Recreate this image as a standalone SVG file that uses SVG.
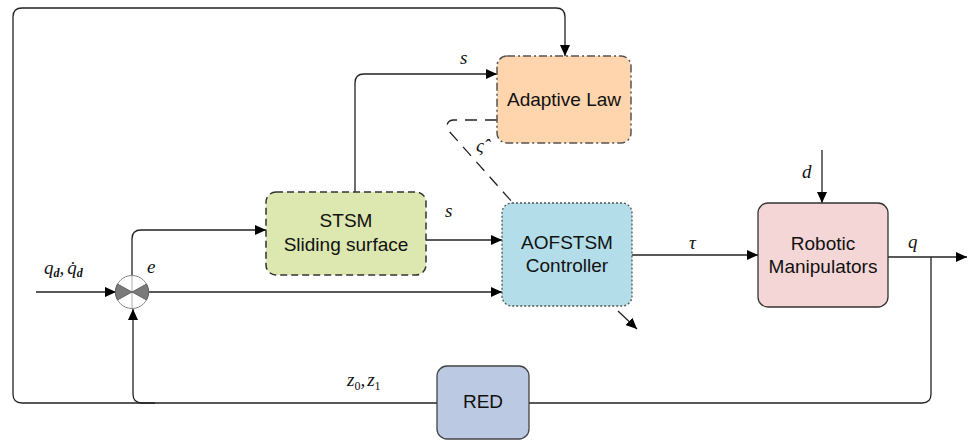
<svg xmlns="http://www.w3.org/2000/svg" width="976" height="442" viewBox="0 0 976 442">
<defs>
<marker id="ah" markerUnits="userSpaceOnUse" markerWidth="11" markerHeight="10" refX="11" refY="5" orient="auto">
<path d="M0,0 L11,5 L0,10 z" fill="#000"/>
</marker>
<style>
.ln{fill:none;stroke:#222;stroke-width:1.3}
.arr{marker-end:url(#ah)}
.lbl{font-family:"Liberation Sans",Arial,sans-serif;font-size:19px;fill:#111;text-anchor:middle}
.m{font-family:"Liberation Serif","Times New Roman",serif;font-style:italic;font-size:19px;fill:#111}
.sub{font-size:12px;font-weight:bold}
</style>
</defs>
<rect width="976" height="442" fill="#fff"/>
<g id="connectors">
<path class="ln arr" d="M155 403 L22 403 Q13 403 13 394 L13 17 Q13 8 22 8 L556 8 Q565 8 565 17 L565 56"/>
<path class="ln arr" d="M437 403 L142 403 Q133 403 133 394 L133 309"/>
<path class="ln" d="M529 403 L922 403 Q931 403 931 394 L931 257"/>
<path class="ln arr" d="M888 257 L967 257"/>
<path class="ln arr" d="M822 150 L822 203"/>
<path class="ln arr" d="M632 255 L758 255"/>
<path class="ln arr" d="M36 292 L116 292"/>
<path class="ln arr" d="M149 292 L502 292"/>
<path class="ln arr" d="M132 276 L132 239 Q132 230 141 230 L266 230"/>
<path class="ln arr" d="M355 192 L355 83 Q355 74 364 74 L497 74"/>
<path class="ln arr" d="M426 240 L502 240"/>
<path class="ln arr" d="M618 311 L637 329"/>
<path class="ln" stroke-dasharray="12,8" d="M497 120 L453 120 Q445 121 448 130 L513 203"/>
</g>
<g id="sum">
<circle cx="132" cy="292" r="16.5" fill="#fff" stroke="#888" stroke-width="1"/>
<path d="M132 275.5 L132 308.5 M115.5 292 L148.5 292" stroke="#999" stroke-width="0.8"/>
<path d="M132 292 L117.5 284 A16.5 16.5 0 0 0 117.5 300 Z M132 292 L146.5 284 A16.5 16.5 0 0 1 146.5 300 Z" fill="#7a7a7a" stroke="#555" stroke-width="0.8"/>
</g>
<g id="adaptive">
<rect x="497" y="56" width="134" height="87" rx="10" fill="#FFD5AE" stroke="#555" stroke-width="1.5" stroke-dasharray="8,3,2,3"/>
<text class="lbl" x="564" y="106">Adaptive Law</text>
</g>
<g id="stsm">
<rect x="266" y="192" width="160" height="83" rx="10" fill="#DDE7B0" stroke="#333" stroke-width="1.5" stroke-dasharray="7,4"/>
<text class="lbl" x="346" y="227">STSM</text>
<text class="lbl" x="346" y="251">Sliding surface</text>
</g>
<g id="aofstsm">
<rect x="502" y="203" width="130" height="103" rx="10" fill="#B2DDE9" stroke="#555" stroke-width="1.3" stroke-dasharray="2,2"/>
<text class="lbl" x="567" y="249">AOFSTSM</text>
<text class="lbl" x="567" y="272">Controller</text>
</g>
<g id="robot">
<rect x="758" y="203" width="130" height="104" rx="10" fill="#F5D6D6" stroke="#333" stroke-width="1.3"/>
<text class="lbl" x="823" y="250">Robotic</text>
<text class="lbl" x="823" y="273">Manipulators</text>
</g>
<g id="red">
<rect x="437" y="366" width="92" height="73" rx="10" fill="#BBCAE2" stroke="#444" stroke-width="1.3"/>
<text class="lbl" x="483" y="408">RED</text>
</g>
<g id="labels">
<text class="m" x="44" y="274">q<tspan class="sub" dy="3">d</tspan><tspan dy="-3">,</tspan><tspan dx="3">q̇</tspan><tspan class="sub" dy="3">d</tspan></text>
<text class="m" x="147" y="273">e</text>
<text class="m" x="460" y="64">s</text>
<text class="m" x="445" y="217">s</text>
<text class="m" x="476" y="152">ς̂</text>
<text class="m" x="689" y="249">τ</text>
<text class="m" x="802" y="178">d</text>
<text class="m" x="908" y="248">q</text>
<text class="m" x="347" y="386">z<tspan font-size="12" font-style="normal" dy="4">0</tspan><tspan dy="-4">,</tspan><tspan dx="2">z</tspan><tspan font-size="12" font-style="normal" dy="4">1</tspan></text>
</g>
</svg>
